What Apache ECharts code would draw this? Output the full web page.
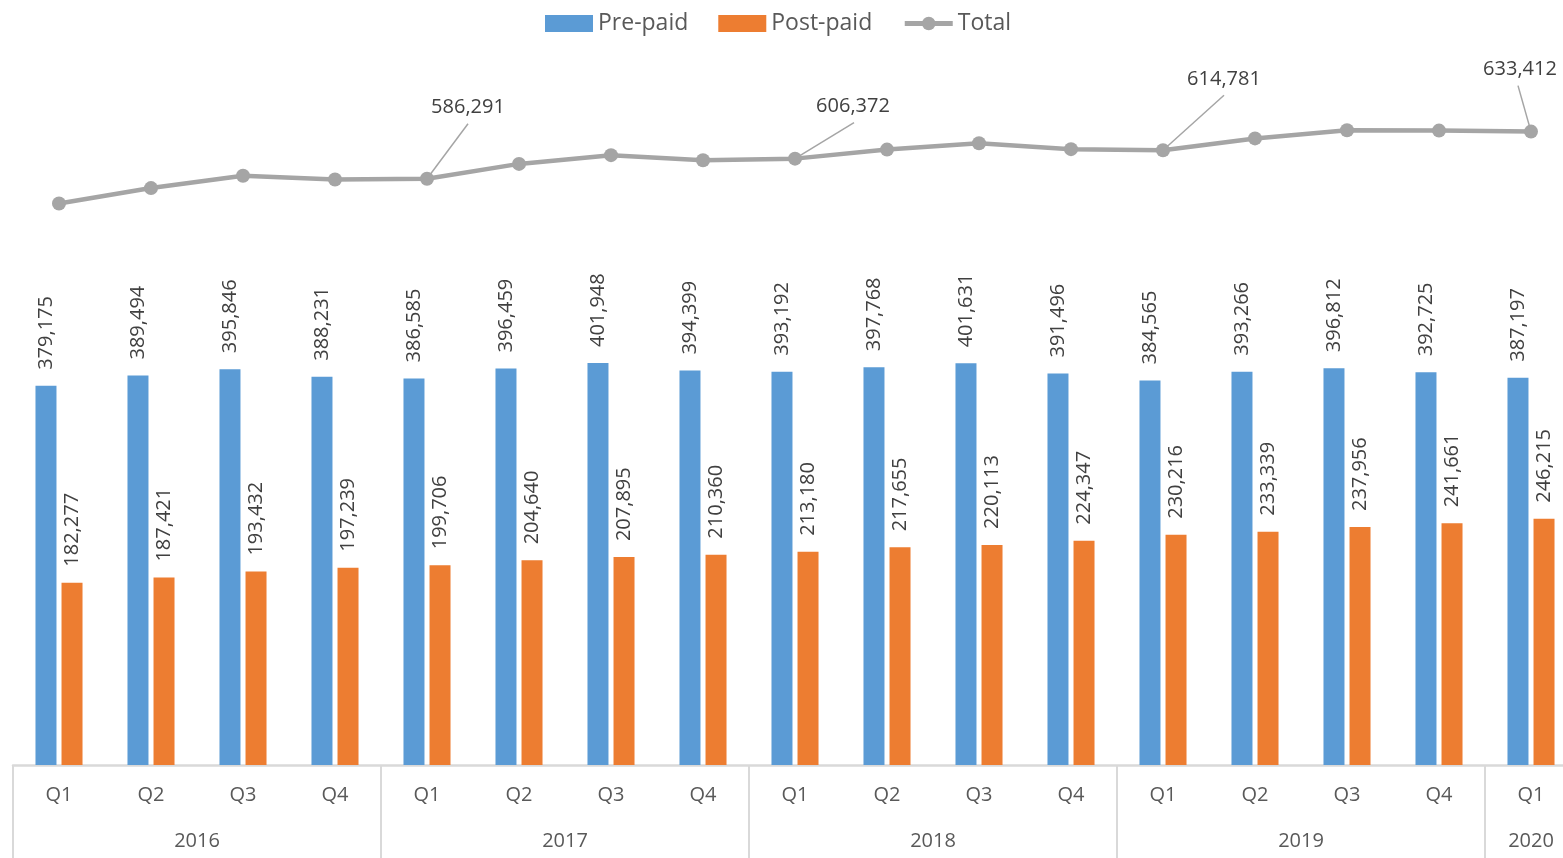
<!DOCTYPE html>
<html>
<head>
<meta charset="utf-8">
<script src="https://cdn.jsdelivr.net/npm/echarts@6/dist/echarts.min.js"></script>
<style>
html,body{margin:0;padding:0;background:#fff;overflow:hidden;width:1563px;height:858px;}
#chart{width:1577px;height:858px;}
</style>
</head>
<body>
<div id="chart"></div>
<script>
const quarters = ['Q1','Q2','Q3','Q4','Q1','Q2','Q3','Q4','Q1','Q2','Q3','Q4','Q1','Q2','Q3','Q4','Q1'];
const years = ['2016','2017','2018','2019','2020'];
const yearSpans = [4,4,4,4,1];
const prePaid = [379175,389494,395846,388231,386585,396459,401948,394399,393192,397768,401631,391496,384565,393266,396812,392725,387197];
const postPaid = [182277,187421,193432,197239,199706,204640,207895,210360,213180,217655,220113,224347,230216,233339,237956,241661,246215];
const total = [561452,576915,589278,585470,586291,601099,609843,604759,606372,615423,621744,615843,614781,626605,634768,634386,633412];
const labelledTotals = [4,8,12,16];

// year axis built on half-quarter steps
const yearAxisData = [];
const yearTickIdx = [0];
let pos = 0;
for (let i = 0; i <= 34; i++) yearAxisData.push('');
yearSpans.forEach((s, k) => {
  const center = pos * 2 + s;
  yearAxisData[center] = years[k];
  pos += s;
  yearTickIdx.push(pos * 2);
});

// label centre offsets from point (px) and leader start offsets
const labelOff = {4:[41,-73], 8:[58,-54], 12:[61,-73], 16:[-11,-64]};
const leadOff = {4:[41,-55], 8:[59,-36], 12:[61,-55], 16:[-13,-46]};
const defaultLabelRise = 24; // default 'top' label centre sits this far above the point

const font = '"Open Sans", "Noto Sans", sans-serif';
const chart = echarts.init(document.getElementById('chart'));
chart.setOption({
  animation: false,
  textStyle: {fontFamily: font},
  legend: {
    top: 12, left: 545, padding: 0,
    itemWidth: 48, itemHeight: 17, itemGap: 30,
    textStyle: {fontSize: 23, color: '#595959', fontFamily: font},
    lineStyle: {width: 5},
    data: [{name: 'Pre-paid', icon: 'rect'}, {name: 'Post-paid', icon: 'rect'}, {name: 'Total'}]
  },
  grid: {left: 13, top: 65, right: 0, bottom: 93, containLabel: false},
  xAxis: [
    {
      type: 'category', data: quarters, position: 'bottom',
      axisLine: {show: true, lineStyle: {color: '#d9d9d9', width: 2.5}},
      axisTick: {show: false},
      axisLabel: {color: '#595959', fontSize: 20, margin: 20, fontFamily: font, interval: 0}
    },
    {
      type: 'category', data: yearAxisData, position: 'bottom', boundaryGap: false,
      axisLine: {show: false},
      axisTick: {show: true, length: 100, lineStyle: {color: '#d9d9d9', width: 2},
        interval: function (idx) { return yearTickIdx.indexOf(idx) >= 0; }},
      axisLabel: {color: '#595959', fontSize: 20, margin: 66, fontFamily: font,
        interval: function (idx, val) { return val !== ''; }}
    }
  ],
  yAxis: {type: 'value', min: 0, max: 700000, show: false, splitLine: {show: false}},
  series: [
    {
      name: 'Pre-paid', type: 'bar', data: prePaid, barWidth: 21, barGap: '24%',
      itemStyle: {color: '#5B9BD5'},
      label: {show: true, position: 'top', rotate: 90, align: 'left', verticalAlign: 'middle',
        distance: 16, fontSize: 20, color: '#404040', fontFamily: font,
        formatter: p => p.value.toLocaleString('en-US')}
    },
    {
      name: 'Post-paid', type: 'bar', data: postPaid, barWidth: 21,
      itemStyle: {color: '#ED7D31'},
      label: {show: true, position: 'top', rotate: 90, align: 'left', verticalAlign: 'middle',
        distance: 16, fontSize: 20, color: '#404040', fontFamily: font,
        formatter: p => p.value.toLocaleString('en-US')}
    },
    {
      name: 'Total', type: 'line',
      data: total.map((v, i) => labelledTotals.indexOf(i) >= 0
        ? {value: v, label: {show: true}}
        : {value: v}),
      symbol: 'circle', symbolSize: 14,
      lineStyle: {color: '#A5A5A5', width: 4.5},
      itemStyle: {color: '#A5A5A5'},
      label: {show: false, position: 'top', fontSize: 20, color: '#404040', fontFamily: font,
        formatter: p => p.value.toLocaleString('en-US')},
      labelLayout: function (params) {
        const o = labelOff[params.dataIndex];
        if (!o) return {};
        return {dx: o[0], dy: o[1] + defaultLabelRise};
      },
      z: 5
    }
  ]
});

// leader lines from each labelled point up to its label
const leaders = labelledTotals.map(i => {
  const p = chart.convertToPixel({xAxisIndex: 0, yAxisIndex: 0}, [i, total[i]]);
  const o = leadOff[i];
  return {
    type: 'line', z: 4, silent: true,
    shape: {x1: p[0] + o[0], y1: p[1] + o[1], x2: p[0], y2: p[1]},
    style: {stroke: '#A5A5A5', lineWidth: 1.5}
  };
});
chart.setOption({graphic: leaders});
</script>
</body>
</html>
